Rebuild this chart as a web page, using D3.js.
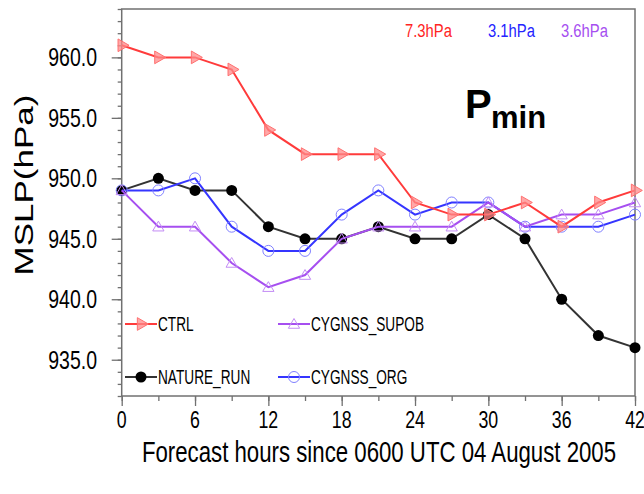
<!DOCTYPE html>
<html>
<head>
<meta charset="utf-8">
<script src="https://cdn.jsdelivr.net/npm/d3@7"></script>
<style>
  body { margin: 0; background: #fff; }
  svg text { font-family: "Liberation Sans", Arial, sans-serif; }
</style>
</head>
<body>
<div id="chart"></div>
<script>
// Forecast hours (every 3h)
var hours = [0, 3, 6, 9, 12, 15, 18, 21, 24, 27, 30, 33, 36, 39, 42];

// Minimum sea level pressure per experiment (hPa)
var ctrl      = [961, 960, 960, 959, 954, 952, 952, 952, 948, 947, 947, 948, 946, 948, 949];
var natureRun = [949, 950, 949, 949, 946, 945, 945, 946, 945, 945, 947, 945, 940, 937, 936];
var cygOrg    = [949, 949, 950, 946, 944, 944, 947, 949, 947, 948, 948, 946, 946, 946, 947];
var cygSupob  = [949, 946, 946, 943, 941, 942, 945, 946, 946, 946, 948, 946, 947, 947, 948];

// Axis ticks
var yTicks = [935, 940, 945, 950, 955, 960];
var xTicks = [0, 6, 12, 18, 24, 30, 36, 42];

// Error labels at top right
var errLabels = ["7.3hPa", "3.1hPa", "3.6hPa"];

var width = 644, height = 494;
var svg = d3.select("#chart").append("svg")
    .attr("width", width)
    .attr("height", height);

var x = d3.scaleLinear().domain([0, 42]).range([121.7, 635]);
var y = d3.scaleLinear().domain([932, 964]).range([396, 9]);

var frameColor = "#707070";

// helper: place text squeezed horizontally like the source figure
function squeeze(sel, px, py, sx) {
    return sel.attr("transform", "translate(" + px + "," + py + ") scale(" + sx + ",1)");
}

// ticks (minor + major), outward
function tickAxis(axis) {
    var g = svg.append("g").call(axis);
    g.select(".domain").remove();
    g.selectAll("line").attr("stroke", frameColor).attr("stroke-width", 1.3);
    g.selectAll("text").remove();
    return g;
}
tickAxis(d3.axisLeft(y).tickValues(d3.range(932, 965, 1)).tickSize(4).tickFormat(""))
    .attr("transform", "translate(" + x(0) + ",0)");
tickAxis(d3.axisLeft(y).tickValues(d3.range(935, 965, 5)).tickSize(10).tickFormat(""))
    .attr("transform", "translate(" + x(0) + ",0)");
tickAxis(d3.axisBottom(x).tickValues(d3.range(0, 43, 3)).tickSize(5).tickFormat(""))
    .attr("transform", "translate(0," + y(932) + ")");
tickAxis(d3.axisBottom(x).tickValues(d3.range(0, 43, 6)).tickSize(10).tickFormat(""))
    .attr("transform", "translate(0," + y(932) + ")");

// frame
svg.append("rect")
    .attr("x", x(0)).attr("y", y(964))
    .attr("width", x(42) - x(0)).attr("height", y(932) - y(964))
    .attr("fill", "none")
    .attr("stroke", frameColor)
    .attr("stroke-width", 1.5);

// tick labels
svg.selectAll(".ylab").data(yTicks).enter().append("text")
    .attr("class", "ylab")
    .attr("text-anchor", "end")
    .attr("font-size", 25)
    .attr("dy", "0.36em")
    .each(function(d) { squeeze(d3.select(this), 97, y(d), 0.78); })
    .text(function(d) { return d3.format(".1f")(d); });

svg.selectAll(".xlab").data(xTicks).enter().append("text")
    .attr("class", "xlab")
    .attr("text-anchor", "middle")
    .attr("font-size", 24)
    .each(function(d) { squeeze(d3.select(this), x(d), 428, 0.74); })
    .text(function(d) { return d; });

// axis titles
squeeze(svg.append("text"), 379, 462, 0.766)
    .attr("text-anchor", "middle")
    .attr("font-size", 29)
    .text("Forecast hours since 0600 UTC 04 August 2005");

svg.append("text")
    .attr("transform", "translate(33,185) scale(0.72,1) rotate(-90)")
    .attr("text-anchor", "middle")
    .attr("font-size", 35)
    .text("MSLP(hPa)");

// series
var series = [
    {name: "NATURE_RUN",   values: natureRun, color: "#333333", marker: "dot"},
    {name: "CYGNSS_ORG",   values: cygOrg,    color: "#3535ff", marker: "circle"},
    {name: "CYGNSS_SUPOB", values: cygSupob,  color: "#a64ff0", marker: "tri"},
    {name: "CTRL",         values: ctrl,      color: "#ff3b3b", marker: "rtri"}
];

var line = d3.line()
    .x(function(d, i) { return x(hours[i]); })
    .y(function(d) { return y(d); });

function drawMarker(g, m) {
    if (m == "dot") {
        g.append("circle").attr("r", 5.5).attr("fill", "#000");
    } else if (m == "circle") {
        g.append("circle").attr("r", 5.5).attr("fill", "none")
            .attr("stroke", "#7f7fff").attr("stroke-width", 1);
    } else if (m == "tri") {
        g.append("path").attr("d", d3.symbol(d3.symbolTriangle, 55)())
            .attr("transform", "translate(0,1)")
            .attr("fill", "none").attr("stroke", "#c38cf5").attr("stroke-width", 1);
    } else if (m == "rtri") {
        g.append("path").attr("d", d3.symbol(d3.symbolTriangle, 70)())
            .attr("transform", "rotate(90)")
            .attr("fill", "#ff8a8a").attr("fill-opacity", 0.75)
            .attr("stroke", "#ff7070").attr("stroke-width", 1);
    }
}

series.forEach(function(s) {
    svg.append("path")
        .datum(s.values)
        .attr("d", line)
        .attr("fill", "none")
        .attr("stroke", s.color)
        .attr("stroke-width", 2);
    svg.selectAll(null).data(s.values).enter().append("g")
        .attr("transform", function(d, i) { return "translate(" + x(hours[i]) + "," + y(d) + ")"; })
        .each(function() { drawMarker(d3.select(this), s.marker); });
});

// legend
var legend = [
    {name: "CTRL",         color: "#ff3b3b", marker: "rtri",   lx: 125, ly: 324},
    {name: "CYGNSS_SUPOB", color: "#a64ff0", marker: "tri",    lx: 278, ly: 324},
    {name: "NATURE_RUN",   color: "#333333", marker: "dot",    lx: 125, ly: 377},
    {name: "CYGNSS_ORG",   color: "#3535ff", marker: "circle", lx: 278, ly: 377}
];
legend.forEach(function(l) {
    var g = svg.append("g").attr("transform", "translate(" + l.lx + "," + l.ly + ")");
    g.append("line").attr("x1", 0).attr("x2", 32)
        .attr("stroke", l.color).attr("stroke-width", 2);
    drawMarker(g.append("g").attr("transform", "translate(16,0)"), l.marker);
    squeeze(g.append("text"), 33, 7, 0.7)
        .attr("font-size", 19.5)
        .text(l.name);
});

// error annotations
var errColors = ["#ff2424", "#2424ff", "#a64ff0"];
var errX = [405, 488, 561];
errLabels.forEach(function(t, i) {
    squeeze(svg.append("text"), errX[i], 37, 0.78)
        .attr("font-size", 19)
        .attr("fill", errColors[i])
        .text(t);
});

// P_min label
var pm = svg.append("text")
    .attr("x", 465).attr("y", 118)
    .attr("font-family", "Lato, 'Open Sans', sans-serif")
    .attr("font-weight", "bold")
    .attr("font-size", 40)
    .attr("fill", "#000");
pm.append("tspan").text("P");
pm.append("tspan").attr("x", 491).attr("y", 128).attr("font-size", 31).text("min");
</script>
</body>
</html>
